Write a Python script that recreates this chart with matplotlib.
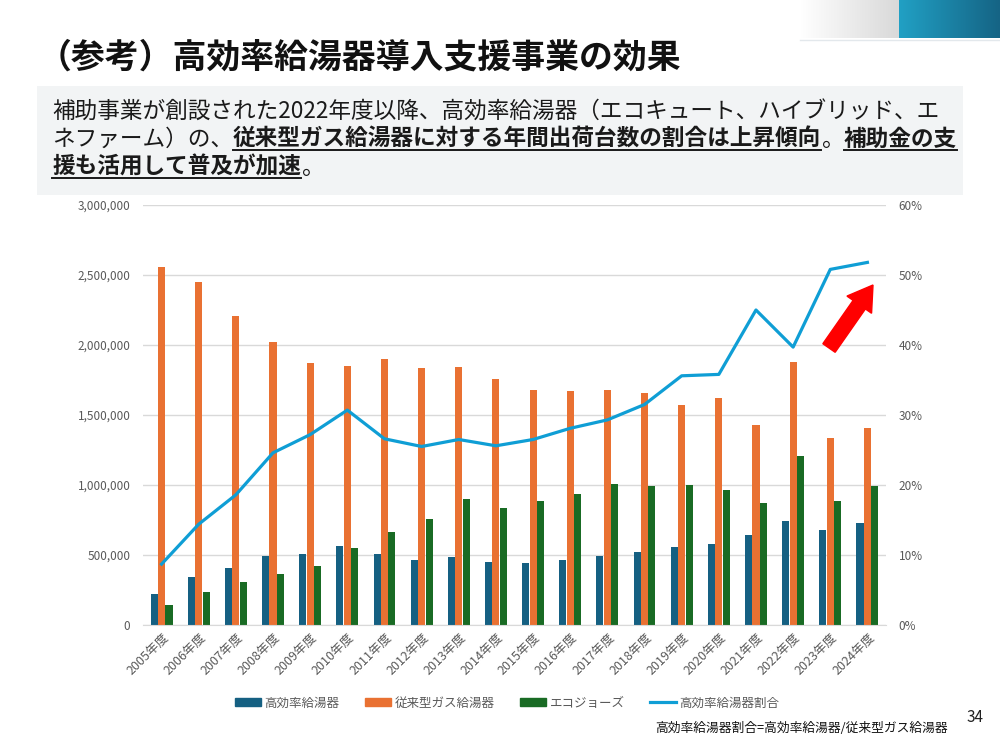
import numpy as np
import matplotlib
matplotlib.use("Agg")
import matplotlib.pyplot as plt
from matplotlib.patches import Rectangle, Patch, FancyArrow
from matplotlib.lines import Line2D
from matplotlib.ticker import FuncFormatter, MultipleLocator
from matplotlib.transforms import IdentityTransform

plt.rcParams['font.family'] = ['Noto Sans CJK JP', 'DejaVu Sans']

years = [f"{y}年度" for y in range(2005, 2025)]
high_eff = [221000, 345000, 410000, 496000, 508000, 567000, 505000, 465000, 489000, 448000,
            443000, 465000, 491000, 522000, 560000, 582000, 643000, 746000, 679000, 729000]
conv_gas = [2556000, 2447000, 2209000, 2021000, 1871000, 1851000, 1902000, 1835000, 1842000, 1756000,
            1678000, 1671000, 1678000, 1659000, 1575000, 1625000, 1427000, 1880000, 1339000, 1406000]
eco_jozu = [143000, 236000, 307000, 367000, 419000, 553000, 665000, 755000, 898000, 834000,
            889000, 936000, 1010000, 991000, 998000, 965000, 872000, 1208000, 889000, 994000]
ratio = [0.087, 0.144, 0.186, 0.246, 0.272, 0.307, 0.266, 0.255, 0.265, 0.256,
         0.265, 0.281, 0.293, 0.315, 0.356, 0.358, 0.450, 0.397, 0.508, 0.518]

C_BLUE = '#156082'
C_ORANGE = '#E97132'
C_GREEN = '#196B24'
C_LINE = '#0F9ED5'
C_TICK = '#595959'
C_GRID = '#D9D9D9'

W, H = 1000, 750
fig = plt.figure(figsize=(10, 7.5), dpi=100)
renderer = fig.canvas.get_renderer()


def fx(x):
    return x / W


def fy(y):
    return 1 - y / H


# top-right decoration
deco = fig.add_axes([fx(800), fy(38), fx(200), 38 / H])
n = 200
img = np.zeros((2, n, 3))
g0 = np.array([255, 255, 255]) / 255
g1 = np.array([217, 217, 217]) / 255
b0 = np.array([33, 160, 196]) / 255
b1 = np.array([21, 100, 133]) / 255
for i in range(n):
    if i < 99:
        t = i / 98
        img[:, i] = g0 * (1 - t) + g1 * t
    else:
        t = (i - 99) / (n - 100)
        img[:, i] = b0 * (1 - t) + b1 * t
deco.imshow(img, aspect='auto', extent=[0, 1, 0, 1])
deco.axis('off')
fig.add_artist(Line2D([fx(800), 1], [fy(39.5)] * 2, color='#E3E8EC', lw=1))

# title
fig.text(fx(38), fy(68), '（参考）高効率給湯器導入支援事業の効果', fontsize=24.4,
         fontweight='bold', color='#111111', va='baseline', ha='left')

# text box
fig.add_artist(Rectangle((fx(37), fy(195)), fx(926), 109 / H, transform=fig.transFigure,
                         facecolor='#F2F4F5', edgecolor='none', zorder=0))


def rich_line(x0, y0, parts, size=16.3):
    x = x0
    for s, bold in parts:
        t = fig.text(fx(x), fy(y0), s, fontsize=size, fontweight='bold' if bold else 'normal',
                     color='#1A1A1A', va='baseline', ha='left')
        bb = t.get_window_extent(renderer)
        if bold:
            fig.add_artist(Line2D([fx(x), fx(x + bb.width)], [fy(y0 + 4)] * 2,
                                  color='#1A1A1A', lw=1.4))
        x += bb.width


rich_line(52, 118, [('補助事業が創設された2022年度以降、高効率給湯器（エコキュート、ハイブリッド、エ', False)])
rich_line(52, 146, [('ネファーム）の、', False),
                    ('従来型ガス給湯器に対する年間出荷台数の割合は上昇傾向', True),
                    ('。', False), ('補助金の支', True)])
rich_line(52, 174, [('援も活用して普及が加速', True), ('。', False)])

# chart
ax = fig.add_axes([fx(143), fy(625), fx(743), 420 / H])
x = np.arange(len(years))
bw = 0.19
ax.bar(x - 0.2, high_eff, bw, color=C_BLUE, zorder=2, label='高効率給湯器')
ax.bar(x, conv_gas, bw, color=C_ORANGE, zorder=2, label='従来型ガス給湯器')
ax.bar(x + 0.2, eco_jozu, bw, color=C_GREEN, zorder=2, label='エコジョーズ')
ax.set_xlim(-0.5, len(years) - 0.5)
ax.set_ylim(0, 3000000)
ax.yaxis.set_major_locator(MultipleLocator(500000))
ax.yaxis.set_major_formatter(FuncFormatter(lambda v, p: f"{int(v):,}"))
ax.grid(axis='y', color=C_GRID, lw=1, zorder=0)
for s in ['top', 'left', 'right']:
    ax.spines[s].set_visible(False)
ax.spines['bottom'].set_color(C_GRID)
ax.tick_params(axis='y', length=0, pad=9, labelsize=8.5, labelcolor=C_TICK)
ax.tick_params(axis='x', length=0, pad=4)
ax.set_xticks(x)
ax.set_xticklabels(years, rotation=45, ha='right', rotation_mode='anchor',
                   fontsize=9, color=C_TICK)

ax2 = ax.twinx()
ax2.plot(x, ratio, color=C_LINE, lw=2.3, zorder=3, label='高効率給湯器割合')
ax2.set_ylim(0, 0.6)
ax2.yaxis.set_major_locator(MultipleLocator(0.1))
ax2.yaxis.set_major_formatter(FuncFormatter(lambda v, p: f"{v * 100:.0f}%"))
for s in ['top', 'left', 'right', 'bottom']:
    ax2.spines[s].set_visible(False)
ax2.tick_params(axis='y', length=0, pad=9, labelsize=8.5, labelcolor=C_TICK)

# red arrow
fig.add_artist(FancyArrow(829, H - 348, 44, 63, width=15, head_width=30, head_length=24,
                          length_includes_head=True, color='#FF0000',
                          transform=IdentityTransform()))

handles = [Patch(color=C_BLUE), Patch(color=C_ORANGE), Patch(color=C_GREEN),
           Line2D([0], [0], color=C_LINE, lw=2.3)]
labels = ['高効率給湯器', '従来型ガス給湯器', 'エコジョーズ', '高効率給湯器割合']
leg = fig.legend(handles, labels, loc='center', bbox_to_anchor=(fx(507), fy(703)), ncol=4,
                 frameon=False, fontsize=9, handlelength=2.1, handleheight=0.55,
                 handletextpad=0.3, columnspacing=2.0)
for t in leg.get_texts():
    t.set_color(C_TICK)

fig.text(fx(975), fy(717), '34', fontsize=11, ha='center', va='center', color='#222222')
fig.text(fx(948), fy(728), '高効率給湯器割合=高効率給湯器/従来型ガス給湯器', fontsize=9.2,
         ha='right', va='center', color='#111111')

fig.savefig('out.png', dpi=100)
